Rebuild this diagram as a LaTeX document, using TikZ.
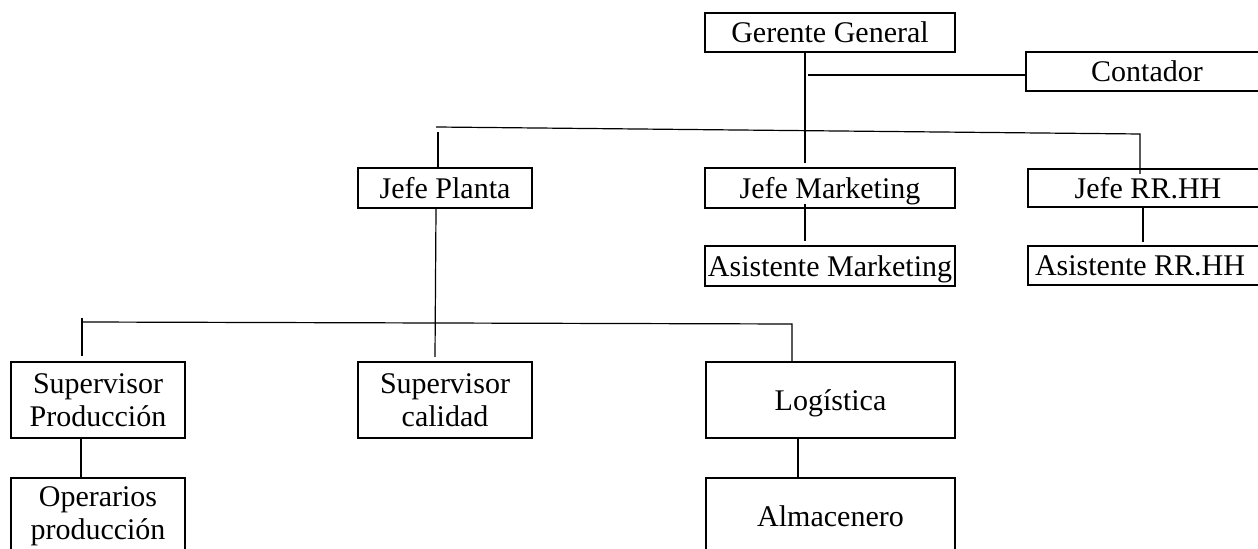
\documentclass[tikz,border=0pt]{standalone}
\usepackage{fontspec}
\setmainfont{Liberation Serif}
\begin{document}
\begin{tikzpicture}[x=0.5pt,y=-0.5pt,
  orgbox/.style={draw, line width=1pt, rectangle, inner sep=0pt, align=center,
    font=\fontsize{15}{16.5}\selectfont},
  oneline/.style={orgbox, text height=12pt, text depth=1.5pt},
  link/.style={line width=0.6pt}]
\clip (0,0) rectangle (1258,549);
\fill[white] (0,0) rectangle (1258,549);

% top level
\node[oneline, minimum width=125pt, minimum height=19.5pt] (gg) at (830,32.5) {Gerente General};
\node[oneline, minimum width=121pt, minimum height=19.5pt] (cont) at (1147,71.5) {Contador};

% department heads
\node[oneline, minimum width=87pt, minimum height=20pt] (jp) at (445,188) {Jefe Planta};
\node[oneline, minimum width=125pt, minimum height=20pt] (jm) at (830,188) {Jefe Marketing};
\node[oneline, minimum width=120pt, minimum height=19pt] (jr) at (1148,188) {Jefe RR.HH};

% assistants
\node[oneline, minimum width=125pt, minimum height=20pt] (am) at (830,266) {Asistente Marketing};
\node[oneline, text width=113pt, inner xsep=3.5pt, align=flush left, minimum height=19.5pt] (ar) at (1148,265.5) {Asistente RR.HH};

% plant area
\node[orgbox, minimum width=87pt, minimum height=38pt] (sp) at (98,400) {Supervisor\\Producción};
\node[orgbox, minimum width=87pt, minimum height=38pt] (sc) at (445,400) {Supervisor\\calidad};
\node[oneline, minimum width=124.5pt, minimum height=38pt] (lg) at (830.5,400) {Logística};
\node[orgbox, minimum width=87pt, minimum height=38pt] (op) at (98,516) {Operarios\\producción};
\node[oneline, minimum width=124.5pt, minimum height=38pt] (al) at (830.5,516) {Almacenero};

% bus points
\coordinate (c1) at (808,75);
\coordinate (b1) at (436,127);
\coordinate (b2) at (1140,134);
\coordinate (pd) at (438,132);
\coordinate (lb1) at (82,322);
\coordinate (lb2) at (792,324);

% connectors
\draw[link] ([xshift=-12.5pt]gg.south) -- ([xshift=-12.5pt,yshift=2pt]jm.north);
\draw[link] (c1) -- (c1 -| cont.west);
\draw[link] (b1) -- (b2) -- ([yshift=-3pt]b2 |- jr.north);
\draw[link] (pd) -- (pd |- jp.north);
\draw[link] ([xshift=-12.5pt,yshift=2.5pt]jm.south) -- ([xshift=-12.5pt,yshift=2pt]am.north);
\draw[link] ([xshift=-2.5pt,yshift=0.5pt]jr.south) -- ([xshift=-2.5pt,yshift=1.5pt]ar.north);
\draw[link] ([xshift=-4.5pt]jp.south) -- ([xshift=-5pt,yshift=2pt]sc.north);
\draw[link] (lb1) -- (lb2) -- (lb2 |- lg.north);
\draw[link] ([yshift=2pt]lb1) -- ([yshift=2.5pt]lb1 |- sp.north);
\draw[link] ([xshift=-8.5pt]sp.south) -- ([xshift=-8.5pt]op.north);
\draw[link] ([xshift=-16.25pt]lg.south) -- ([xshift=-16.25pt,yshift=-1pt]al.north);
\end{tikzpicture}
\end{document}
